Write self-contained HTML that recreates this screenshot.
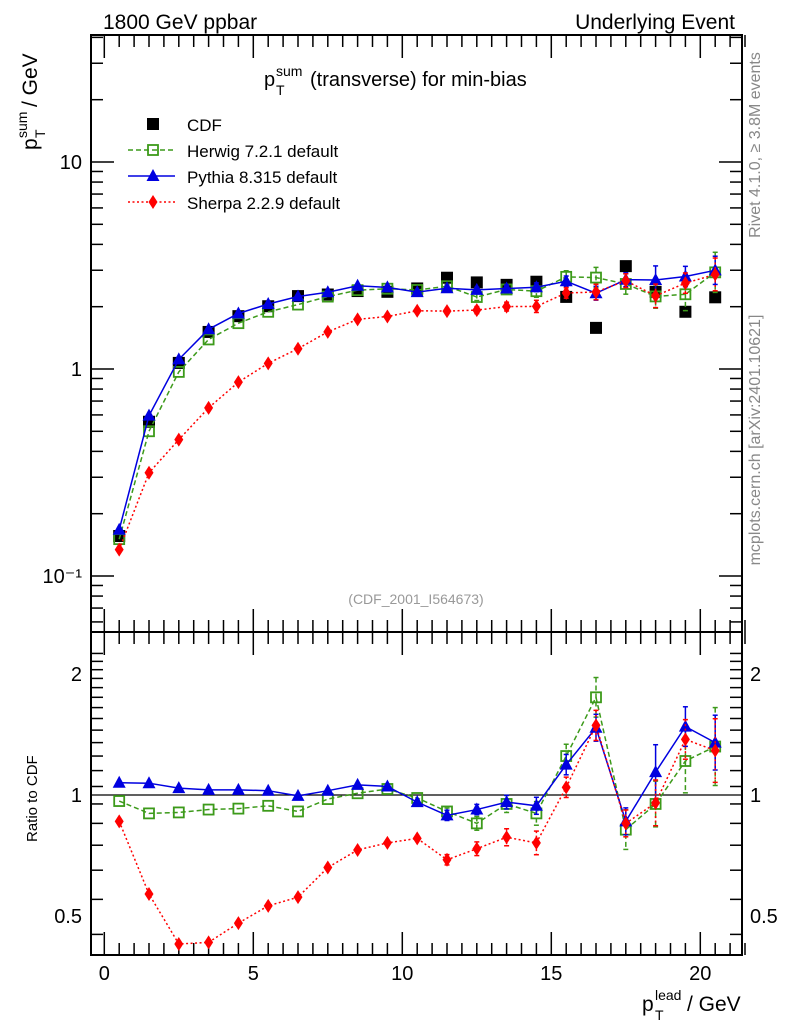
<!DOCTYPE html>
<html><head><meta charset="utf-8"><style>
body{margin:0;background:#fff;}
svg{display:block;font-family:"Liberation Sans",sans-serif;}
</style></head><body>
<svg id="c" width="786" height="1024" viewBox="0 0 786 1024">
<rect width="786" height="1024" fill="#fff"/>
<text x="103" y="29" font-size="21">1800 GeV ppbar</text>
<text x="735" y="29" font-size="21" text-anchor="end">Underlying Event</text>
<g>
<text x="264" y="86" font-size="20">p</text>
<text x="276" y="76" font-size="14">sum</text>
<text x="276" y="95" font-size="14">T</text>
<text x="310" y="86" font-size="20">(transverse) for min-bias</text>
</g>
<g transform="translate(37,0) rotate(-90)">
<text x="-150" y="0" font-size="21">p</text>
<text x="-138" y="-10" font-size="14">sum</text>
<text x="-138" y="8" font-size="14">T</text>
<text x="-107" y="0" font-size="21">/ GeV</text>
</g>
<text transform="translate(37,842) rotate(-90)" font-size="15">Ratio to CDF</text>
<g>
<text x="642" y="1011" font-size="21">p</text>
<text x="655" y="1000" font-size="14">lead</text>
<text x="655" y="1020" font-size="14">T</text>
<text x="687" y="1011" font-size="21">/ GeV</text>
</g>
<text transform="translate(760,145) rotate(-90)" font-size="16" fill="#888" text-anchor="middle">Rivet 4.1.0, ≥ 3.8M events</text>
<text transform="translate(760,440) rotate(-90)" font-size="16" fill="#888" text-anchor="middle">mcplots.cern.ch [arXiv:2401.10621]</text>
<text x="416" y="604" font-size="14" fill="#999" text-anchor="middle">(CDF_2001_I564673)</text>
<g id="main"></g>
<g id="ratio"></g>
<g id="legend"></g>
</svg>
<script>
const xs=[0.5,1.5,2.5,3.5,4.5,5.5,6.5,7.5,8.5,9.5,10.5,11.5,12.5,13.5,14.5,15.5,16.5,17.5,18.5,19.5,20.5];
const cdf=[0.156,0.556,1.07,1.51,1.80,2.01,2.25,2.29,2.38,2.36,2.45,2.76,2.62,2.55,2.64,2.23,1.58,3.14,2.36,1.89,2.22];
const ratioPythia=[1.073,1.07,1.04,1.03,1.03,1.025,0.995,1.025,1.06,1.05,0.96,0.89,0.92,0.96,0.94,1.19,1.47,0.86,1.14,1.48,1.35];
const ratioHerwig=[0.966,0.90,0.905,0.92,0.925,0.94,0.91,0.977,1.01,1.035,0.983,0.91,0.85,0.95,0.90,1.25,1.75,0.82,0.95,1.215,1.32];
const ratioSherpa=[0.86,0.567,0.426,0.43,0.48,0.53,0.557,0.66,0.73,0.76,0.78,0.69,0.735,0.785,0.76,1.045,1.49,0.85,0.956,1.375,1.29];
const relErrPythia=[0,0,0,0,0,0,0,0,0,0,0,0.03,0.03,0.04,0.05,0.06,0.08,0.08,0.17,0.12,0.17];
const relErrHerwig=[0,0,0,0,0,0,0,0,0,0,0,0.02,0.04,0.05,0.07,0.07,0.12,0.12,0.14,0.2,0.25];
const relErrSherpa=[0,0,0,0,0,0,0,0,0,0,0,0.03,0.04,0.05,0.07,0.06,0.09,0.08,0.14,0.12,0.2];
const xTicksMajor=[0,5,10,15,20];
const mainTickLabels=["10\u207B\u00B9","1","10"];
const ratioTicks=[0.5,1,2];

const NS="http://www.w3.org/2000/svg";
const L=91,R=742,MT=35,MB=632,RT=632,RB=955;
const X=v=>104.3+v*29.8;
const Ym=v=>369-Math.log10(v)*207;
const Yr=v=>795-Math.log2(v)*121;
function el(tag,a,p){const e=document.createElementNS(NS,tag);for(const k in a)e.setAttribute(k,a[k]);p.appendChild(e);return e;}
const main=document.getElementById('main'),ratio=document.getElementById('ratio'),leg=document.getElementById('legend');



function frame(g,t,b){
  const f=el('rect',{x:L,y:t,width:R-L,height:b-t,fill:'none',stroke:'#000','stroke-width':2},g);
  
  for(let v=0;v<=21.5;v+=0.5){
    const maj=xTicksMajor.includes(v);const len=maj?23:12;
    el('line',{x1:X(v),x2:X(v),y1:b,y2:b-len,stroke:'#000','stroke-width':1.5},g);
    el('line',{x1:X(v),x2:X(v),y1:t,y2:t+len,stroke:'#000','stroke-width':1.5},g);
  }
}
frame(main,MT,MB);frame(ratio,RT,RB);
for(let d=-2;d<=1;d++){for(let m=1;m<=9;m++){const v=m*Math.pow(10,d);const y=Ym(v);if(y<MT||y>MB)continue;const len=m==1?23:12;
  el('line',{x1:L,x2:L+len,y1:y,y2:y,stroke:'#000','stroke-width':1.5},main);
  el('line',{x1:R,x2:R-len,y1:y,y2:y,stroke:'#000','stroke-width':1.5},main);}}
[0.1,1,10].forEach((v,i)=>{const t=el('text',{x:82,y:Ym(v)+7,'font-size':20,'text-anchor':'end'},main);t.textContent=mainTickLabels[i];
});
for(let v=0.45;v<=2.35;v+=0.1){const y=Yr(v);if(y<RT||y>RB)continue;const maj=[0.5,1,2].some(m=>Math.abs(m-v)<1e-6);const len=maj?23:12;
  el('line',{x1:L,x2:L+len,y1:y,y2:y,stroke:'#000','stroke-width':1.5},ratio);
  el('line',{x1:R,x2:R-len,y1:y,y2:y,stroke:'#000','stroke-width':1.5},ratio);}
ratioTicks.forEach(v=>{const s=String(v);
  const t=el('text',{x:82,y:Yr(v)+7,'font-size':20,'text-anchor':'end'},ratio);t.textContent=s;
  
  const t2=el('text',{x:750,y:Yr(v)+7,'font-size':20},ratio);t2.textContent=s;
  });
xTicksMajor.forEach(v=>{const t=el('text',{x:X(v),y:980,'font-size':20,'text-anchor':'middle'},ratio);t.textContent=v;
  });
el('line',{x1:L,x2:R,y1:Yr(1),y2:Yr(1),stroke:'#000','stroke-width':1.3},ratio);

function marker(g,type,x,y,col){
  if(type=='sq')return el('rect',{x:x-6,y:y-6,width:12,height:12,fill:'#000'},g);
  if(type=='osq')return el('rect',{x:x-5,y:y-5,width:10,height:10,fill:'none',stroke:col,'stroke-width':1.8},g);
  if(type=='tri')return el('polygon',{points:`${x},${y-7} ${x-6.5},${y+5} ${x+6.5},${y+5}`,fill:col},g);
  return el('polygon',{points:`${x},${y-7} ${x-4.5},${y} ${x},${y+7} ${x+4.5},${y}`,fill:col},g);
}
const series=[
 {name:'herwig',r:ratioHerwig,e:relErrHerwig,col:'#3c9a1a',dash:'5,3',m:'osq'},
 {name:'pythia',r:ratioPythia,e:relErrPythia,col:'#0000e0',dash:'',m:'tri'},
 {name:'sherpa',r:ratioSherpa,e:relErrSherpa,col:'#ff0000',dash:'2,2.5',m:'dia'}];
const cg=el('g',{},main);
xs.forEach((x,i)=>{const m=marker(cg,'sq',X(x),Ym(cdf[i]));});
series.forEach(s=>{
  [[main,i=>Ym(s.r[i]*cdf[i]),v=>Ym(v)],[ratio,i=>Yr(s.r[i]),v=>Yr(v)]].forEach(([g,fy,fv],pi)=>{
    const sg=el('g',{},g);
    const pts=xs.map((x,i)=>X(x)+','+fy(i)).join(' ');
    const a={points:pts,fill:'none',stroke:s.col,'stroke-width':1.5};if(s.dash)a['stroke-dasharray']=s.dash;
    el('polyline',a,sg);
    xs.forEach((x,i)=>{const val=pi?s.r[i]:s.r[i]*cdf[i];const e=s.e[i];
      if(e>0){const la={x1:X(x),x2:X(x),y1:fv(val*(1+e)),y2:fv(val/(1+e)),stroke:s.col,'stroke-width':1.5};if(s.dash)la['stroke-dasharray']=s.dash;el('line',la,sg);
        el('line',{x1:X(x)-2.5,x2:X(x)+2.5,y1:fv(val*(1+e)),y2:fv(val*(1+e)),stroke:s.col,'stroke-width':1.5},sg);
        el('line',{x1:X(x)-2.5,x2:X(x)+2.5,y1:fv(val/(1+e)),y2:fv(val/(1+e)),stroke:s.col,'stroke-width':1.5},sg);}
      const m=marker(sg,s.m,X(x),fy(i),s.col);});
  });
});
const legItems=[['CDF','sq','#000',null],['Herwig 7.2.1 default','osq','#3c9a1a','5,3'],['Pythia 8.315 default','tri','#0000e0',''],['Sherpa 2.2.9 default','dia','#ff0000','2,2.5']];
legItems.forEach((it,i)=>{const y=124+i*26;const g=el('g',{},leg);
  if(it[3]!==null){const a={x1:128,x2:175,y1:y,y2:y,stroke:it[2],'stroke-width':1.5};if(it[3])a['stroke-dasharray']=it[3];el('line',a,g);}
  marker(g,it[1],153,y,it[2]);
  const t=el('text',{x:187,y:y+7,'font-size':17},g);t.textContent=it[0];});
</script>
</body></html>
